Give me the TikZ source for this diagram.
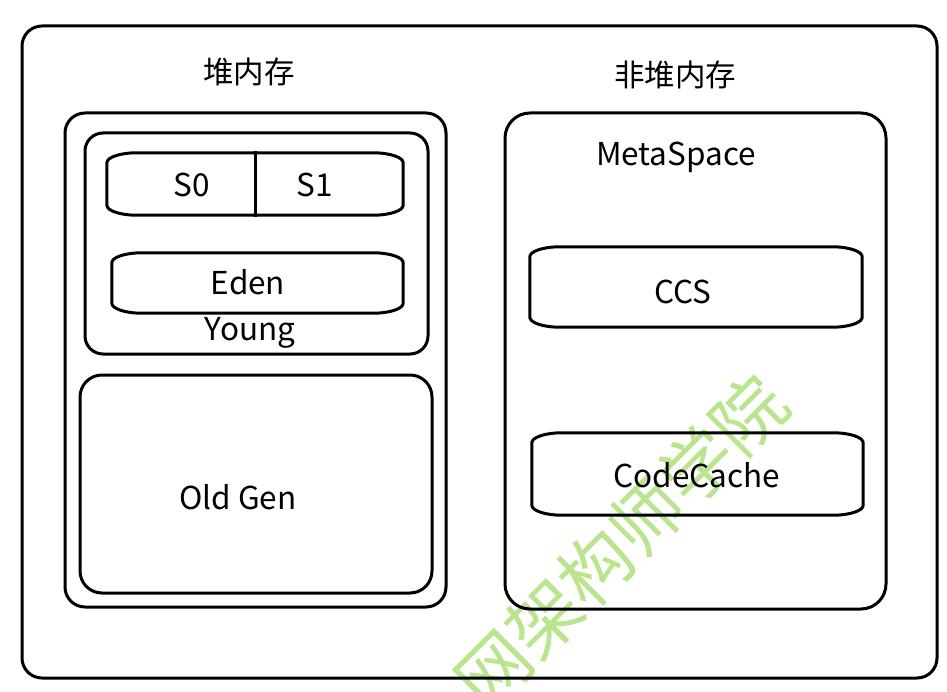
\documentclass[tikz,border=0pt]{standalone}
\usepackage{fontspec}
\setmainfont{Noto Sans CJK SC}
\usepackage{xcolor}
\usetikzlibrary{calc}

\definecolor{wmgreen}{RGB}{186,228,142}

\tikzset{
  box/.style={draw, line width=3pt, rounded corners=#1, inner sep=0pt},
  box/.default=20pt,
  lbl/.style={font=\fontsize{31.5}{36}\selectfont, inner sep=0pt},
  cjk/.style={font=\fontsize{30.5}{36}\selectfont, inner sep=0pt},
}

% bar with flattened elliptic corners, drawn round an empty node
\newcommand{\barline}[1]{%
  \draw[line width=3pt] ($(#1.north west)+(0,10)$)
    arc[start angle=180, end angle=90, x radius=30pt, y radius=10pt]
    -- ($(#1.north east)+(-30,0)$)
    arc[start angle=90, end angle=0, x radius=30pt, y radius=10pt]
    -- ($(#1.south east)+(0,-10)$)
    arc[start angle=0, end angle=-90, x radius=30pt, y radius=10pt]
    -- ($(#1.south west)+(30,0)$)
    arc[start angle=270, end angle=180, x radius=30pt, y radius=10pt]
    -- cycle;}

\begin{document}
\begin{tikzpicture}[x=1pt, y=-1pt]
		\useasboundingbox (0,0) rectangle (947,692);
		\fill[white] (0,0) rectangle (947,692);
		% watermark
		\begin{scope}
		\clip (0,0) rectangle (947,692);
		\node[wmgreen, rotate=45, font=\fontsize{72}{76}\selectfont] (wm) at (621,542) {网架构师学院};
		\end{scope}
		% frames
		\node[box, minimum width=915, minimum height=652] (jvm) at (479.5,352) {};
		\node[box, minimum width=381, minimum height=494] (heap) at (255.5,360) {};
		\node[box=18pt, minimum width=343, minimum height=221] (young) at (256.5,243.5) {};
		\node[box=22pt, minimum width=352, minimum height=218] (old) at (256,484) {};
		\node[box=25pt, minimum width=381, minimum height=496] (meta) at (695.5,361) {};
		% bars
		\node[minimum width=296, minimum height=62, inner sep=0pt] (surv) at (255,184) {};
		\node[minimum width=291, minimum height=60, inner sep=0pt] (eden) at (257.5,283) {};
		\node[minimum width=332, minimum height=80, inner sep=0pt] (ccs) at (696,287) {};
		\node[minimum width=331, minimum height=82, inner sep=0pt] (code) at (697.5,474) {};
		\barline{surv}
		\barline{eden}
		\barline{ccs}
		\barline{code}
		\draw[line width=3pt] ([yshift=2pt]surv.north) -- ([yshift=-2pt]surv.south);
		% labels
		\node[cjk] (heaplbl) at (249,72) {堆内存};
		\node[cjk] (nonheaplbl) at (675,75) {非堆内存};
		\node[lbl] (s0) at (192,185) {S0};
		\node[lbl] (s1) at (315,185) {S1};
		\node[lbl] (edenlbl) at (248,282) {Eden};
		\node[lbl] (younglbl) at (250,333) {Young};
		\node[lbl] (oldlbl) at (238,497) {Old Gen};
		\node[lbl] (metalbl) at (676,157) {MetaSpace};
		\node[lbl] (ccslbl) at (683,292) {CCS};
		\node[lbl] (codelbl) at (697,475) {CodeCache};
		\end{tikzpicture}
\end{document}
